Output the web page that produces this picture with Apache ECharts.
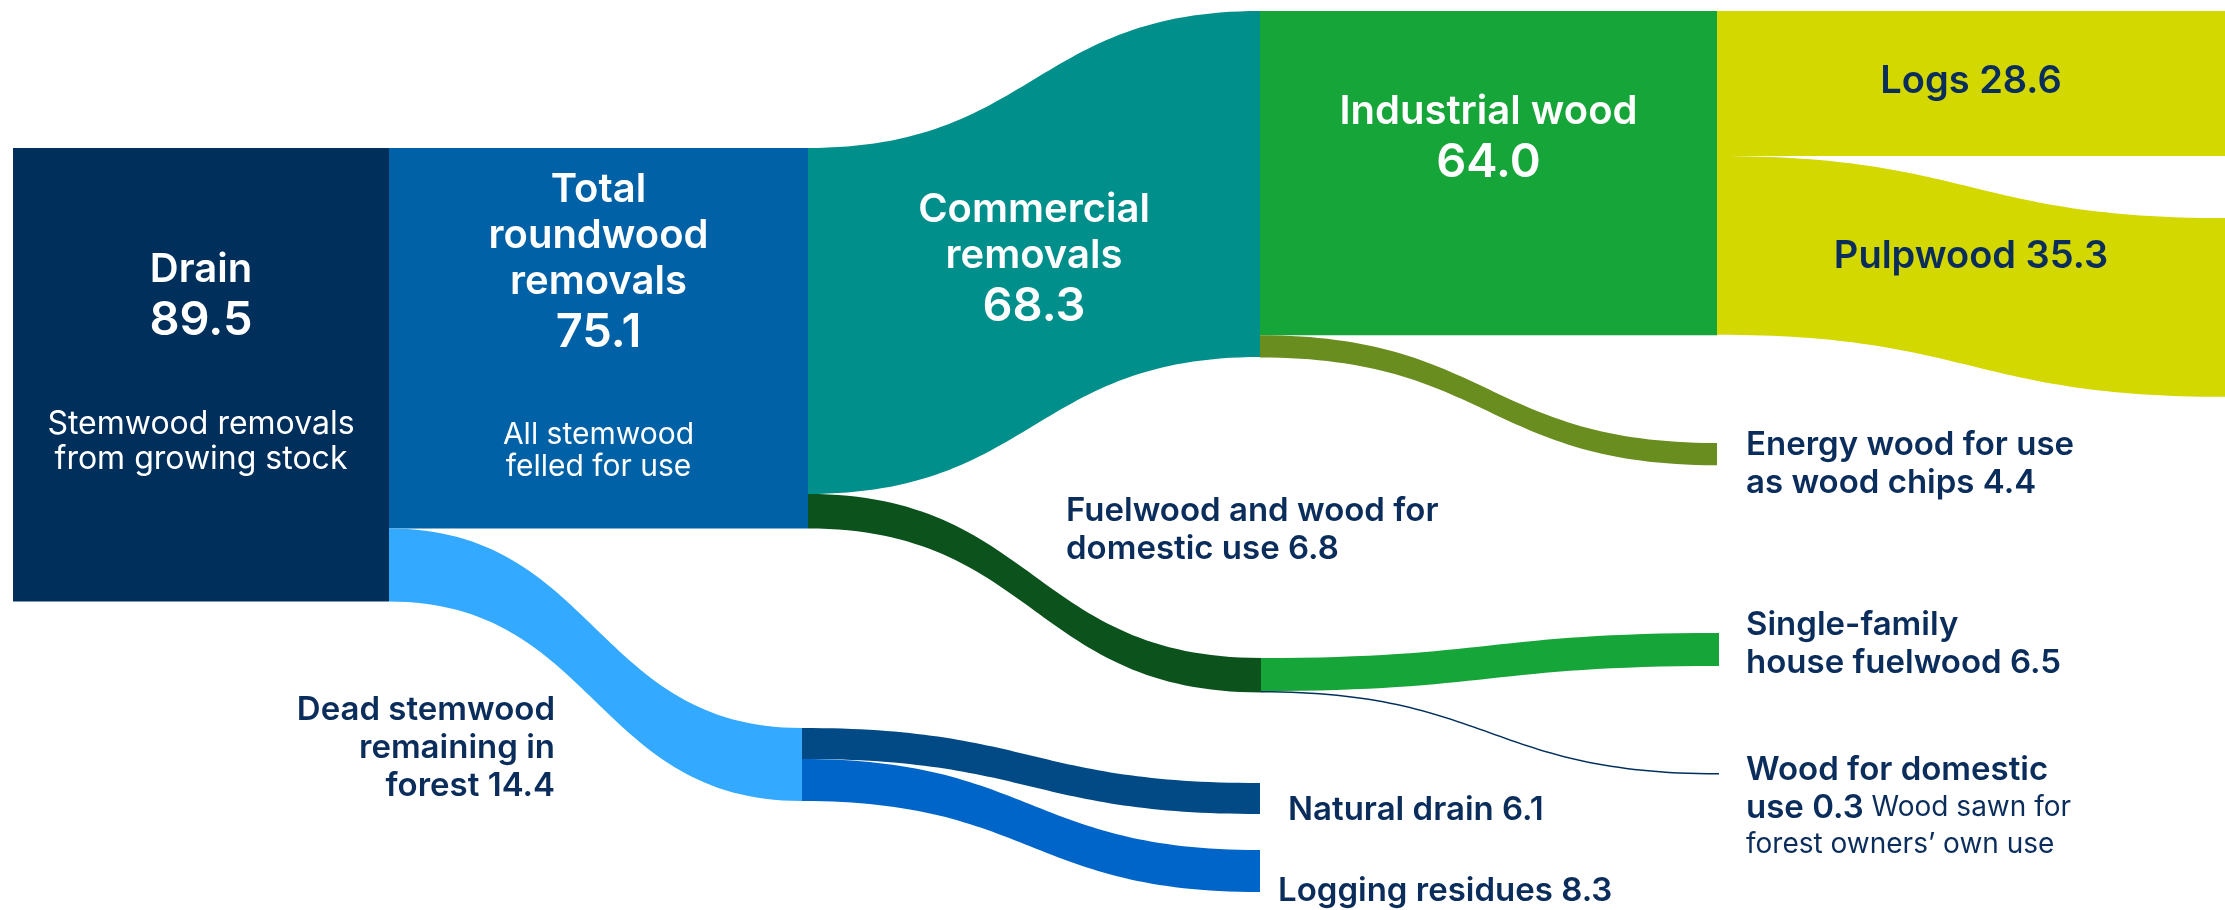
<!DOCTYPE html>
<html>
<head>
<meta charset="utf-8">
<script src="https://cdn.jsdelivr.net/npm/echarts@6/dist/echarts.min.js"></script>
<style>html,body{margin:0;padding:0;background:#ffffff}#c{width:2225px;height:910px}</style>
</head>
<body>
<div id="c"></div>
<script>
// ---------------- DATA ----------------
const nodeNames = ['Drain_L','Drain_R','Total_R','Dead','Ind_L','Fuel','Natural','Logging','Ind_R','Energy','Single','Domestic','Logs_R','Pulp_R'];
const linkSources = ['Drain_L','Drain_R','Drain_R','Total_R','Total_R','Ind_L','Ind_L','Ind_R','Ind_R','Fuel','Fuel','Dead','Dead'];
const linkTargets = ['Drain_R','Total_R','Dead','Ind_L','Fuel','Ind_R','Energy','Logs_R','Pulp_R','Single','Domestic','Natural','Logging'];
const linkValues  = [89.5, 75.1, 14.4, 68.3, 6.8, 64.0, 4.4, 28.6, 35.3, 6.5, 0.3, 6.1, 8.3];

// texts shown on the block-like flows (by link index)
const linkTitles = ['Drain','Total\nroundwood\nremovals','','Commercial\nremovals','','Industrial wood','','Logs','Pulpwood','','','',''];
const linkNotes  = ['Stemwood removals\nfrom growing stock','All stemwood\nfelled for use','','','','','','','','','','',''];

// texts shown next to end nodes
const nodeLabelTexts = {
  Dead: 'Dead stemwood\nremaining in\nforest',
  Fuel: 'Fuelwood and wood for\ndomestic use',
  Energy: 'Energy wood for use\nas wood chips',
  Single: 'Single-family\nhouse fuelwood',
  Domestic: 'Wood for domestic\nuse',
  Natural: 'Natural drain',
  Logging: 'Logging residues'
};
const nodeLabelNotes = { Domestic: 'Wood sawn for\nforest owners\u2019 own use' };

// ---------------- LAYOUT / STYLE ----------------
const W = 2225, H = 910;
const FONT = 'Inter, "Open Sans", "Noto Sans", sans-serif';
const NAVY = '#0B2D5B';
const nodeX   = {Drain_L:13, Drain_R:389, Total_R:808, Dead:802, Ind_L:1260, Fuel:1261, Natural:1260, Logging:1260,
                 Ind_R:1717, Energy:1717, Single:1719, Domestic:1719, Logs_R:2225, Pulp_R:2225};
const nodeTop = {Drain_L:148, Drain_R:148, Total_R:148, Dead:728, Ind_L:11, Fuel:658, Natural:783, Logging:850,
                 Ind_R:11, Energy:443, Single:633, Domestic:773, Logs_R:11, Pulp_R:218};
const linkColors = ['#002F5C','#0061A6','#33A9FF','#008F8A','#0C521D','#16A539','#6A8D1F','#D3D800','#D3D800','#16A539','#002F5C','#024A86','#0065C9'];
const linkLabelKind = ['block','block','','block','','block','','inline','inline','','','',''];
const linkNoteStyle = ['s','s2','','','','','','','','','','',''];
const linkLabelOffset = [[0,-13],[0,-13],[0,0],[0,8],[0,0],[0,-33],[0,0],[0,-2],[0,-20],[0,0],[0,0],[0,0],[0,0]];
const nodeLabelLayout = {
  Dead:     {position:'left',  distance:247, offset:[0,-16]},
  Fuel:     {position:'top',   distance:90,  align:'left', offset:[-195,0]},
  Energy:   {position:'right', distance:29,  offset:[0,10]},
  Single:   {position:'right', distance:27,  offset:[0,-5]},
  Domestic: {position:'right', distance:27,  offset:[0,33]},
  Natural:  {position:'right', distance:28,  offset:[0,12]},
  Logging:  {position:'right', distance:18,  offset:[0,20]}
};

// ---------------- BUILD ----------------
const inValue = {};
linkTargets.forEach((t, i) => { inValue[t] = (inValue[t] || 0) + linkValues[i]; });

function nodeFmt(name) {
  const txt = nodeLabelTexts[name];
  if (!txt) return '';
  const lines = txt.split('\n');
  const out = lines.map(l => '{b|' + l + '}');
  out[out.length - 1] = '{b|' + lines[lines.length - 1] + ' ' + inValue[name].toFixed(1) + '}';
  const note = nodeLabelNotes[name];
  if (note) {
    const nl = note.split('\n');
    out[out.length - 1] += '{n| ' + nl[0] + '}';
    for (let k = 1; k < nl.length; k++) out.push('{n|' + nl[k] + '}');
  }
  return out.join('\n');
}

function edgeFmt(i) {
  const kind = linkLabelKind[i];
  if (!kind) return '';
  const v = linkValues[i].toFixed(1);
  if (kind === 'inline') return '{d|' + linkTitles[i] + ' ' + v + '}';
  let s = linkTitles[i].split('\n').map(l => '{t|' + l + '}').join('\n') + '\n{v|' + v + '}';
  if (linkNotes[i]) {
    const st = linkNoteStyle[i];
    s += '\n{sp| }\n' + linkNotes[i].split('\n').map(l => '{' + st + '|' + l + '}').join('\n');
  }
  return s;
}

const nodes = nodeNames.map(n => {
  const item = {
    name: n,
    localX: nodeX[n] / W,
    localY: nodeTop[n] / H,
    itemStyle: {color: 'rgba(0,0,0,0)', borderWidth: 0}
  };
  if (nodeLabelTexts[n]) item.label = Object.assign({show: true}, nodeLabelLayout[n]);
  return item;
});

const links = linkValues.map((v, i) => ({
  source: linkSources[i],
  target: linkTargets[i],
  value: v,
  lineStyle: {color: linkColors[i], opacity: 1},
  edgeLabel: {offset: linkLabelOffset[i]}
}));

const chart = echarts.init(document.getElementById('c'), null, {renderer: 'canvas'});
chart.setOption({
  backgroundColor: '#ffffff',
  animation: false,
  series: [{
    type: 'sankey',
    left: 0, top: 0, right: 0, bottom: 0,
    nodeWidth: 0,
    nodeGap: 152,
    nodeAlign: 'left',
    layoutIterations: 0,
    draggable: false,
    emphasis: {disabled: true},
    lineStyle: {opacity: 1, curveness: 0.5},
    label: {
      show: false,
      fontFamily: FONT,
      color: NAVY,
      formatter: p => nodeFmt(p.name),
      rich: {
        b: {fontFamily: FONT, fontSize: 33, fontWeight: 600, color: NAVY, lineHeight: 38},
        n: {fontFamily: FONT, fontSize: 28, fontWeight: 400, color: NAVY, lineHeight: 36}
      }
    },
    edgeLabel: {
      show: true,
      fontFamily: FONT,
      color: '#ffffff',
      formatter: p => edgeFmt(p.dataIndex),
      rich: {
        t:  {fontFamily: FONT, fontSize: 40, fontWeight: 600, color: '#ffffff', lineHeight: 46, align: 'center'},
        v:  {fontFamily: FONT, fontSize: 47, fontWeight: 600, color: '#ffffff', lineHeight: 56, align: 'center'},
        sp: {fontSize: 10, lineHeight: 58},
        s:  {fontFamily: FONT, fontSize: 32, fontWeight: 400, color: '#ffffff', lineHeight: 35, align: 'center'},
        s2: {fontFamily: FONT, fontSize: 30, fontWeight: 400, color: '#ffffff', lineHeight: 32, align: 'center'},
        d:  {fontFamily: FONT, fontSize: 38, fontWeight: 600, color: NAVY, lineHeight: 46, align: 'center'}
      }
    },
    data: nodes,
    links: links
  }]
});
</script>
</body>
</html>
